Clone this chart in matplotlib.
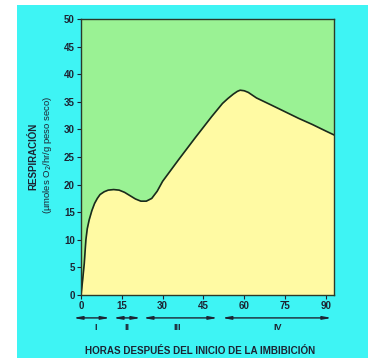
import matplotlib
matplotlib.use("Agg")
import matplotlib.pyplot as plt
from matplotlib.patches import Rectangle
import matplotlib.transforms as mtransforms

# curve (hours, respiration)
horas = [0, 0.3, 0.6, 0.9, 1.2, 1.5, 1.8, 2.3, 3, 4, 5, 6, 7, 8.5, 10, 12, 14, 16, 18,
         20, 22, 24, 26, 28, 30, 36, 42, 48, 52, 54, 56, 57.5, 58.5, 60, 61.5, 63,
         64.5, 70, 75, 80, 85, 90, 93]
resp = [0, 1.3, 2.7, 4.2, 5.7, 7.9, 10, 12.0, 13.6, 15.3, 16.6, 17.5, 18.2, 18.7, 19.0,
        19.1, 19.0, 18.6, 18.0, 17.4, 17.0, 17.0, 17.5, 18.8, 20.6, 24.6, 28.5, 32.3,
        34.7, 35.6, 36.4, 36.9, 37.1, 37.0, 36.7, 36.2, 35.7, 34.4, 33.2, 32.0, 30.9,
        29.7, 29.0]

xticks = [0, 15, 30, 45, 60, 75, 90]
yticks = [0, 5, 10, 15, 20, 25, 30, 35, 40, 45, 50]

# phases: (start, end, label position, label)
fases_ini = [-2.9, 11.8, 22.8, 51.8]
fases_fin = [10.7, 22.0, 50.3, 92.2]
fases_pos = [5.5, 16.9, 35.3, 72.4]
fases_lab = ["I", "II", "III", "IV"]

cyan = "#3ef4f4"
green = "#9af294"
yellow = "#fffaa3"
ink = "#1c2433"

plt.rcParams['font.family'] = ['Liberation Sans', 'DejaVu Sans']

fig = plt.figure(figsize=(3.68, 3.58), dpi=100)
fig.patch.set_facecolor("white")
fig.patches.append(Rectangle((17 / 368, 0), 1, 353 / 358, transform=fig.transFigure,
                             facecolor=cyan, edgecolor="none", zorder=-10))

ax = fig.add_axes([81 / 368, 63 / 358, 253 / 368, 276 / 358])
ax.set_facecolor(green)
ax.fill_between(horas, resp, 0, color=yellow, linewidth=0)
ax.plot(horas, resp, color="#1b2a1b", linewidth=1.2)
ax.set_xlim(0, 93)
ax.set_ylim(0, 50)
ax.set_xticks(xticks)
ax.set_yticks(yticks)
ax.tick_params(direction="out", length=3, width=0.8, color=ink, pad=1.5,
               labelsize=7, labelcolor=ink)
for lab in ax.get_xticklabels() + ax.get_yticklabels():
    lab.set_fontweight("bold")
for s in ax.spines.values():
    s.set_color("#2a3a2a")
    s.set_linewidth(1.0)

trans = mtransforms.blended_transform_factory(ax.transData, ax.transAxes)
for a, b, p, t in zip(fases_ini, fases_fin, fases_pos, fases_lab):
    ax.annotate("", xy=(b, -0.083), xytext=(a, -0.083), xycoords=trans, textcoords=trans,
                annotation_clip=False,
                arrowprops=dict(arrowstyle="<|-|>,head_length=0.5,head_width=0.09",
                                color=ink, lw=1.0, shrinkA=0, shrinkB=0))
    ax.text(p, -0.118, t, transform=trans, ha="center", va="center", fontsize=6.5,
            fontweight="bold", color=ink)

fig.text(200 / 368, 1 - 351 / 358, "HORAS DESPUÉS DEL INICIO DE LA IMBIBICIÓN",
         ha="center", va="center", fontsize=7.1, fontweight="bold", color=ink)
fig.text(33 / 368, 1 - 156 / 358, "RESPIRACIÓN", rotation=90, ha="center", va="center",
         fontsize=7, fontweight="bold", color=ink,
         family=['Liberation Sans Narrow', 'Liberation Sans', 'DejaVu Sans'])
fig.text(48 / 368, 1 - 155 / 358, "(µmoles O$_2$/hr/g peso seco)", rotation=90,
         ha="center", va="center", fontsize=6.8, color=ink)

fig.savefig("out.png", dpi=100)
